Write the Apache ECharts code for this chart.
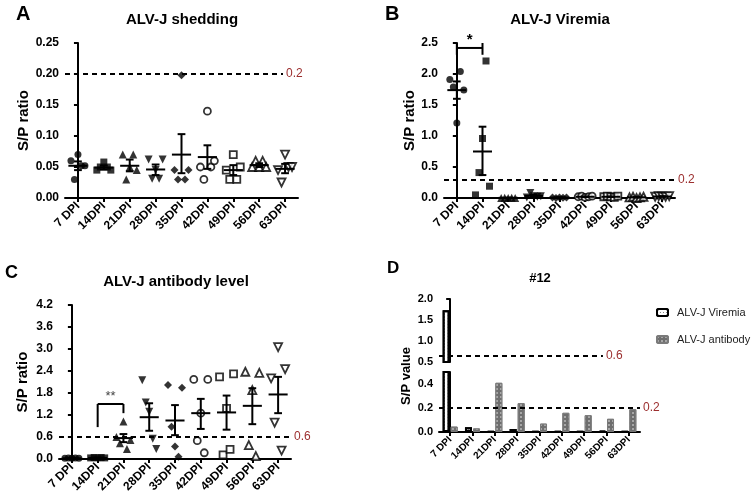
<!DOCTYPE html>
<html lang="en">
<head>
<meta charset="UTF-8">
<title>ALV-J</title>
<style>
    html, body { margin: 0; padding: 0; background: #fff; }
    #main { width: 755px; height: 502px; }
</style>
</head>
<body>
<div id="main"></div>
<script src="https://cdn.jsdelivr.net/npm/echarts@6.0.0/dist/echarts.min.js"></script>
<script>
const FONT = 'Liberation Sans, Arial, sans-serif';

// time points
const days = ['7 DPI', '14DPI', '21DPI', '28DPI', '35DPI', '42DPI', '49DPI', '56DPI', '63DPI'];

// A: shedding S/P, 5 birds per time point (roughly left to right)
const shedVals = [
    [0.06, 0.03, 0.07, 0.052, 0.052],
    [0.045, 0.05, 0.058, 0.05, 0.045],
    [0.07, 0.03, 0.05, 0.07, 0.045],
    [0.062, 0.031, 0.045, 0.031, 0.062],
    [0.045, 0.03, 0.198, 0.03, 0.045],
    [0.05, 0.03, 0.14, 0.05, 0.06],
    [0.045, 0.03, 0.07, 0.03, 0.05],
    [0.05, 0.06, 0.05, 0.06, 0.05],
    [0.045, 0.025, 0.07, 0.05, 0.05]
];
const shedMean = [0.052, 0.049, 0.052, 0.046, 0.070, 0.066, 0.045, 0.053, 0.047];
const shedLo = [0.045, 0.046, 0.043, 0.037, 0.040, 0.047, 0.037, 0.050, 0.040];
const shedHi = [0.059, 0.052, 0.062, 0.054, 0.103, 0.085, 0.053, 0.056, 0.055];

// B: viremia S/P
const virVals = [
    [1.91, 1.79, 1.21, 2.04, 1.74],
    [0.05, 0.41, 0.96, 2.21, 0.19],
    [0.0, 0.005, 0.0, 0.005, 0.0],
    [0.01, 0.08, 0.03, 0.02, 0.03],
    [0.01, 0.0, 0.01, 0.005, 0.01],
    [0.02, 0.03, 0.01, 0.02, 0.03],
    [0.02, 0.03, 0.02, 0.01, 0.03],
    [0.01, 0.02, 0.0, 0.01, 0.02],
    [0.02, 0.03, 0.02, 0.02, 0.03]
];
const virMean = [1.74, 0.75, 0.003, 0.034, 0.007, 0.02, 0.02, 0.012, 0.024];
const virLo = [1.60, 0.37, 0.0, 0.02, 0.004, 0.016, 0.016, 0.008, 0.02];
const virHi = [1.88, 1.15, 0.005, 0.048, 0.01, 0.024, 0.024, 0.016, 0.028];

// C: antibody S/P
const abVals = [
    [0.02, 0.03, 0.02, 0.03, 0.02],
    [0.03, 0.04, 0.03, 0.04, 0.03],
    [0.6, 0.43, 1.02, 0.27, 0.52],
    [2.15, 1.54, 1.29, 0.55, 0.27],
    [2.02, 0.88, 0.34, 0.06, 1.94],
    [2.17, 0.5, 1.25, 0.17, 2.17],
    [2.24, 0.11, 1.38, 0.26, 2.32],
    [2.38, 0.38, 1.88, 0.08, 2.35],
    [2.2, 0.99, 3.05, 0.23, 2.45]
];
const abMean = [0.02, 0.03, 0.57, 1.14, 1.05, 1.25, 1.27, 1.45, 1.76];
const abLo = [0.015, 0.025, 0.46, 0.77, 0.65, 0.82, 0.80, 0.95, 1.25];
const abHi = [0.03, 0.04, 0.68, 1.52, 1.47, 1.64, 1.73, 1.93, 2.24];

// D: bird #12
const bird12Vir = [1.73, 0.04, 0.005, 0.025, 0.003, 0.005, 0.003, 0.01, 0.003];
const bird12Ab = [0.045, 0.03, 0.41, 0.24, 0.07, 0.16, 0.14, 0.11, 0.19];

// cut-off lines: [drawn value, label]
const cutA = [0.2, '0.2'];
const cutB = [0.29, '0.2'];
const cutC = [0.6, '0.6'];
const cutDup = [0.64, '0.6'];
const cutDlow = [0.2, '0.2'];

// significance brackets: [from, to, bar y, left top, left bottom, right top, right bottom]
const sigB = [0, 1, 2.42, 2.5, 2.31, 2.5, 2.31];
const sigC = [1, 2, 1.5, 1.5, 0.87, 1.5, 1.25];

/* marker look per time point */
const shape = ['circle', 'rect', 'triangle', 'triangle', 'diamond', 'circle', 'rect', 'triangle', 'triangle'];
const rot = [0, 0, 0, 180, 0, 0, 0, 0, 180];
const filled = [true, true, true, true, true, false, false, false, false];
const symSize = {circle: 7, rect: 7, triangle: 8, diamond: 8};
const jitter = [-7, -3.5, 0, 3.5, 7];

const grids = [
    {left: 65, top: 43, width: 233, height: 155},
    {left: 444, top: 43, width: 231, height: 155},
    {left: 59, top: 305, width: 232, height: 154},
    {left: 439, top: 299, width: 201, height: 63},
    {left: 439, top: 372, width: 201, height: 60}
];

function catAxis(g, show, size) {
    return {
        type: 'category', gridIndex: g, data: days,
        axisLine: {show: show, lineStyle: {color: '#000', width: 2}},
        axisTick: {show: show, alignWithLabel: true, length: 4, lineStyle: {color: '#000', width: 2}},
        axisLabel: {show: show, rotate: 45, margin: 6, color: '#000', fontWeight: 'bold', fontSize: size, fontFamily: FONT},
        splitLine: {show: false}
    };
}

function valAxis(g, min, max, step, digits, name, gap, extra) {
    const ax = {
        type: 'value', gridIndex: g, min: min, max: max, interval: step,
        name: name, nameLocation: 'middle', nameGap: gap,
        nameTextStyle: {fontSize: 15, fontWeight: 'bold', color: '#000', fontFamily: FONT},
        axisLine: {show: true, lineStyle: {color: '#000', width: 2}},
        axisTick: {show: true, length: 4, lineStyle: {color: '#000', width: 2}},
        axisLabel: {color: '#000', fontWeight: 'bold', fontSize: 12, fontFamily: FONT, margin: 6,
            formatter: v => v.toFixed(digits)},
        splitLine: {show: false}
    };
    return Object.assign(ax, extra || {});
}

function dotSeries(g, vals) {
    const data = [];
    vals.forEach((arr, i) => arr.forEach((v, j) => {
        data.push({
            value: [i, v],
            symbol: shape[i],
            symbolSize: symSize[shape[i]],
            symbolRotate: rot[i],
            symbolOffset: [jitter[j], 0],
            itemStyle: filled[i] ? {color: '#000', borderWidth: 0}
                                 : {color: '#fff', borderColor: '#000', borderWidth: 1.8}
        });
    }));
    return {type: 'scatter', xAxisIndex: g, yAxisIndex: g, data: data, clip: false, silent: true, z: 2};
}

function errSeries(g, mean, lo, hi) {
    return {
        type: 'custom', xAxisIndex: g, yAxisIndex: g, silent: true, z: 3,
        data: mean.map((m, i) => [i, m, lo[i], hi[i]]),
        encode: {x: 0, y: [1, 2, 3]},
        renderItem: function (params, api) {
            const i = api.value(0);
            const m = api.coord([i, api.value(1)]);
            const l = api.coord([i, api.value(2)]);
            const h = api.coord([i, api.value(3)]);
            const w = api.size([1, 0])[0];
            const half = w * 0.37, cap = w * 0.15;
            const st = {stroke: '#000', lineWidth: 2};
            return {type: 'group', children: [
                {type: 'line', shape: {x1: m[0] - half, y1: m[1], x2: m[0] + half, y2: m[1]}, style: st},
                {type: 'line', shape: {x1: m[0], y1: l[1], x2: m[0], y2: h[1]}, style: st},
                {type: 'line', shape: {x1: m[0] - cap, y1: l[1], x2: m[0] + cap, y2: l[1]}, style: st},
                {type: 'line', shape: {x1: m[0] - cap, y1: h[1], x2: m[0] + cap, y2: h[1]}, style: st}
            ]};
        }
    };
}

function sigSeries(g, s, text, font, color) {
    return {
        type: 'custom', xAxisIndex: g, yAxisIndex: g, silent: true, z: 4,
        data: [s],
        encode: {x: [0, 1], y: [2, 3, 4, 5, 6]},
        renderItem: function (params, api) {
            const a = api.coord([api.value(0), api.value(2)]);
            const b = api.coord([api.value(1), api.value(2)]);
            const l0 = api.coord([api.value(0), api.value(3)]);
            const l1 = api.coord([api.value(0), api.value(4)]);
            const r0 = api.coord([api.value(1), api.value(5)]);
            const r1 = api.coord([api.value(1), api.value(6)]);
            const st = {stroke: '#000', lineWidth: 2};
            return {type: 'group', children: [
                {type: 'line', shape: {x1: a[0], y1: a[1], x2: b[0], y2: b[1]}, style: st},
                {type: 'line', shape: {x1: l0[0], y1: l0[1], x2: l1[0], y2: l1[1]}, style: st},
                {type: 'line', shape: {x1: r0[0], y1: r0[1], x2: r1[0], y2: r1[1]}, style: st},
                {type: 'text', x: (a[0] + b[0]) / 2, y: a[1] - 1,
                    style: {text: text, font: font, fill: color, align: 'center', verticalAlign: 'bottom'}}
            ]};
        }
    };
}

// dashed cut-off drawn on the hidden value x axis of the same grid
function cutSeries(g, cut, end) {
    return {
        type: 'line', xAxisIndex: 5 + g, yAxisIndex: g, data: [], silent: true,
        markLine: {
            silent: true, symbol: ['none', 'none'], animation: false,
            lineStyle: {color: '#000', type: [5, 4], width: 2},
            emphasis: {disabled: true},
            label: {position: 'end', formatter: cut[1], color: '#9c2f2f', fontSize: 12,
                distance: 3, fontFamily: FONT},
            data: [[{coord: [-0.5, cut[0]]}, {coord: [end, cut[0]]}]]
        }
    };
}

const virStyle = {
    color: '#fff', borderColor: '#000', borderWidth: 2,
    decal: {symbol: 'rect', symbolSize: 1, dashArrayX: [1, 2], dashArrayY: [1, 2], color: '#8a8a8a'}
};
const abStyle = {
    color: '#6e6e6e', borderColor: '#7a7a7a', borderWidth: 1,
    decal: {symbol: 'rect', symbolSize: 0.7, dashArrayX: [2, 2], dashArrayY: [2, 2], color: 'rgba(255,255,255,0.75)'}
};
function barSeries(name, vals, g, style) {
    return {type: 'bar', name: name, xAxisIndex: g, yAxisIndex: g, data: vals,
        barWidth: 7, barGap: '15%', itemStyle: style, silent: true};
}

function txt(text, left, top, size, center) {
    return {
        text: text, left: left, top: top, padding: 0,
        textAlign: center ? 'center' : 'left',
        textVerticalAlign: center ? 'middle' : 'top',
        textStyle: {fontSize: size, fontWeight: 'bold', color: '#000', fontFamily: FONT}
    };
}

const myChart = echarts.init(document.getElementById('main'));

const option = {
    animation: false,
    backgroundColor: '#fff',
    title: [
        txt('A', 16, 4, 20), txt('B', 385, 4, 20), txt('C', 5, 264, 18), txt('D', 387, 260, 17),
        txt('ALV-J shedding', 182, 20, 15, true),
        txt('ALV-J Viremia', 560, 20, 15, true),
        txt('ALV-J antibody level', 176, 282, 15, true),
        txt('#12', 540, 278, 13, true)
    ],
    legend: {
        orient: 'vertical', left: 651, top: 302, itemWidth: 11, itemHeight: 7, itemGap: 16,
        selectedMode: false,
        data: ['ALV-J Viremia', 'ALV-J antibody'],
        textStyle: {fontSize: 11, color: '#222', fontFamily: FONT, padding: [0, 0, 0, 4]}
    },
    grid: grids.map(g => Object.assign({outerBoundsMode: 'none', containLabel: false}, g)),
    xAxis: [
        catAxis(0, true, 12), catAxis(1, true, 12), catAxis(2, true, 12),
        catAxis(3, false, 10), catAxis(4, true, 10)
    ].concat(grids.map((g, i) => ({type: 'value', gridIndex: i, min: -0.5, max: 8.5, show: false}))),
    yAxis: [
        valAxis(0, 0, 0.25, 0.05, 2, 'S/P ratio', 33),
        valAxis(1, 0, 2.5, 0.5, 1, 'S/P ratio', 19),
        valAxis(2, 0, 4.2, 0.6, 1, 'S/P ratio', 29),
        valAxis(3, 0.5, 2.0, 0.5, 1, '', 0),
        valAxis(4, 0, 0.5, 0.2, 1, 'S/P value', 26)
    ],
    series: [
        dotSeries(0, shedVals), errSeries(0, shedMean, shedLo, shedHi), cutSeries(0, cutA, 7.92),
        dotSeries(1, virVals), errSeries(1, virMean, virLo, virHi), cutSeries(1, cutB, 8.5),
        sigSeries(1, sigB, '*', 'bold 15px ' + FONT, '#000'),
        dotSeries(2, abVals), errSeries(2, abMean, abLo, abHi), cutSeries(2, cutC, 8.5),
        sigSeries(2, sigC, '**', '13px ' + FONT, '#444'),
        barSeries('ALV-J Viremia', bird12Vir, 3, virStyle), barSeries('ALV-J antibody', bird12Ab, 3, abStyle),
        barSeries('ALV-J Viremia', bird12Vir, 4, virStyle), barSeries('ALV-J antibody', bird12Ab, 4, abStyle),
        cutSeries(3, cutDup, 6.84), cutSeries(4, cutDlow, 8.5)
    ]
};

// broken-axis details for panel D
option.yAxis[3].axisLabel.fontSize = 11;
option.yAxis[4].axisLabel.fontSize = 11;
option.yAxis[4].axisLabel.customValues = [0, 0.2, 0.4];
option.yAxis[4].axisTick.customValues = [0, 0.2, 0.4];
option.yAxis[4].nameTextStyle = {fontSize: 13, fontWeight: 'bold', color: '#000', fontFamily: FONT, padding: [0, 0, 0, 52]};

myChart.setOption(option);
</script>
</body>
</html>
